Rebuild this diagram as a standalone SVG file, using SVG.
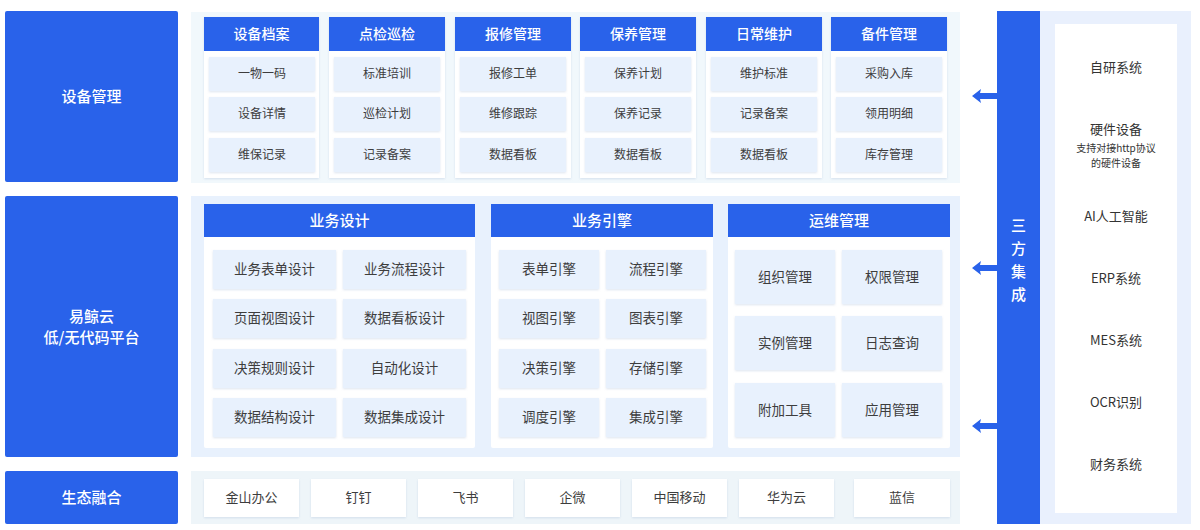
<svg xmlns="http://www.w3.org/2000/svg" width="1200" height="530" viewBox="0 0 1200 530">
<defs>
<filter id="sh" x="-10%" y="-10%" width="120%" height="130%">
<feDropShadow dx="0" dy="1" stdDeviation="1.2" flood-color="#9fb3d1" flood-opacity="0.35"/>
</filter>
<style>
text{font-family:"Noto Sans CJK SC","Noto Sans",sans-serif;text-anchor:middle;dominant-baseline:central;transform:translateY(-1.5px)}
.blk{fill:#2962ea}
.lbl{fill:#ffffff;font-size:15px;font-weight:500}
.hd{fill:#ffffff;font-size:14px;font-weight:500}
.hd2{fill:#ffffff;font-size:15px;font-weight:500}
.card{fill:#ffffff}
.it{fill:#e8f1fd}
.t12{fill:#3d3d3d;font-size:12px}
.t13{fill:#3d3d3d;font-size:13.5px}
.tb{fill:#3d3d3d;font-size:13px}
.tr{fill:#333333;font-size:13px}
.ts{fill:#333333;font-size:10px}
.arr{fill:#2962ea}
</style>
</defs>

<g id="left-labels">
<g id="lbl-device"><rect class="blk" x="5" y="11" width="173" height="171" rx="2"/><text class="lbl" x="91.5" y="97">设备管理</text></g>
<g id="lbl-platform"><rect class="blk" x="5" y="196" width="173" height="261" rx="2"/><text class="lbl" x="91.5" y="317">易鲸云</text><text class="lbl" x="91.5" y="338">低/无代码平台</text></g>
<g id="lbl-eco"><rect class="blk" x="5" y="471" width="173" height="53" rx="2"/><text class="lbl" x="91.5" y="497.5">生态融合</text></g>
</g>

<g id="device-panel">
<rect x="191" y="12" width="769" height="171" fill="#f1f8fc"/>
<g id="col-1"><rect class="card" x="204" y="17" width="115" height="161" filter="url(#sh)"/><rect class="blk" x="204" y="17" width="115" height="34"/><text class="hd" x="261.5" y="34">设备档案</text>
<rect class="it" x="209" y="57" width="106" height="34" filter="url(#sh)"/><text class="t12" x="262" y="74">一物一码</text>
<rect class="it" x="209" y="97" width="106" height="34" filter="url(#sh)"/><text class="t12" x="262" y="114">设备详情</text>
<rect class="it" x="209" y="138" width="106" height="34" filter="url(#sh)"/><text class="t12" x="262" y="155">维保记录</text></g>
<g id="col-2"><rect class="card" x="329" y="17" width="116" height="161" filter="url(#sh)"/><rect class="blk" x="329" y="17" width="116" height="34"/><text class="hd" x="387" y="34">点检巡检</text>
<rect class="it" x="334" y="57" width="106" height="34" filter="url(#sh)"/><text class="t12" x="387" y="74">标准培训</text>
<rect class="it" x="334" y="97" width="106" height="34" filter="url(#sh)"/><text class="t12" x="387" y="114">巡检计划</text>
<rect class="it" x="334" y="138" width="106" height="34" filter="url(#sh)"/><text class="t12" x="387" y="155">记录备案</text></g>
<g id="col-3"><rect class="card" x="455" y="17" width="116" height="161" filter="url(#sh)"/><rect class="blk" x="455" y="17" width="116" height="34"/><text class="hd" x="513" y="34">报修管理</text>
<rect class="it" x="460" y="57" width="106" height="34" filter="url(#sh)"/><text class="t12" x="513" y="74">报修工单</text>
<rect class="it" x="460" y="97" width="106" height="34" filter="url(#sh)"/><text class="t12" x="513" y="114">维修跟踪</text>
<rect class="it" x="460" y="138" width="106" height="34" filter="url(#sh)"/><text class="t12" x="513" y="155">数据看板</text></g>
<g id="col-4"><rect class="card" x="580" y="17" width="116" height="161" filter="url(#sh)"/><rect class="blk" x="580" y="17" width="116" height="34"/><text class="hd" x="638" y="34">保养管理</text>
<rect class="it" x="585" y="57" width="106" height="34" filter="url(#sh)"/><text class="t12" x="638" y="74">保养计划</text>
<rect class="it" x="585" y="97" width="106" height="34" filter="url(#sh)"/><text class="t12" x="638" y="114">保养记录</text>
<rect class="it" x="585" y="138" width="106" height="34" filter="url(#sh)"/><text class="t12" x="638" y="155">数据看板</text></g>
<g id="col-5"><rect class="card" x="706" y="17" width="116" height="161" filter="url(#sh)"/><rect class="blk" x="706" y="17" width="116" height="34"/><text class="hd" x="764" y="34">日常维护</text>
<rect class="it" x="711" y="57" width="106" height="34" filter="url(#sh)"/><text class="t12" x="764" y="74">维护标准</text>
<rect class="it" x="711" y="97" width="106" height="34" filter="url(#sh)"/><text class="t12" x="764" y="114">记录备案</text>
<rect class="it" x="711" y="138" width="106" height="34" filter="url(#sh)"/><text class="t12" x="764" y="155">数据看板</text></g>
<g id="col-6"><rect class="card" x="831" y="17" width="116" height="161" filter="url(#sh)"/><rect class="blk" x="831" y="17" width="116" height="34"/><text class="hd" x="889" y="34">备件管理</text>
<rect class="it" x="836" y="57" width="106" height="34" filter="url(#sh)"/><text class="t12" x="889" y="74">采购入库</text>
<rect class="it" x="836" y="97" width="106" height="34" filter="url(#sh)"/><text class="t12" x="889" y="114">领用明细</text>
<rect class="it" x="836" y="138" width="106" height="34" filter="url(#sh)"/><text class="t12" x="889" y="155">库存管理</text></g>
</g>

<g id="platform-panel">
<rect x="191" y="196" width="769" height="261" fill="#e8f1fd"/>
<g id="biz-design"><rect class="card" x="204" y="204" width="271" height="244" rx="2"/><rect class="blk" x="204" y="204" width="271" height="33"/><text class="hd2" x="339.5" y="220.5">业务设计</text>
<rect class="it" x="213" y="250" width="123" height="39" filter="url(#sh)"/><text class="t13" x="274.5" y="269.5">业务表单设计</text>
<rect class="it" x="343" y="250" width="123" height="39" filter="url(#sh)"/><text class="t13" x="404.5" y="269.5">业务流程设计</text>
<rect class="it" x="213" y="299" width="123" height="39" filter="url(#sh)"/><text class="t13" x="274.5" y="318.5">页面视图设计</text>
<rect class="it" x="343" y="299" width="123" height="39" filter="url(#sh)"/><text class="t13" x="404.5" y="318.5">数据看板设计</text>
<rect class="it" x="213" y="349" width="123" height="39" filter="url(#sh)"/><text class="t13" x="274.5" y="368.5">决策规则设计</text>
<rect class="it" x="343" y="349" width="123" height="39" filter="url(#sh)"/><text class="t13" x="404.5" y="368.5">自动化设计</text>
<rect class="it" x="213" y="398" width="123" height="39" filter="url(#sh)"/><text class="t13" x="274.5" y="417.5">数据结构设计</text>
<rect class="it" x="343" y="398" width="123" height="39" filter="url(#sh)"/><text class="t13" x="404.5" y="417.5">数据集成设计</text></g>
<g id="biz-engine"><rect class="card" x="491" y="204" width="222" height="244" rx="2"/><rect class="blk" x="491" y="204" width="222" height="33"/><text class="hd2" x="602" y="220.5">业务引擎</text>
<rect class="it" x="499" y="250" width="100" height="39" filter="url(#sh)"/><text class="t13" x="549" y="269.5">表单引擎</text>
<rect class="it" x="606" y="250" width="100" height="39" filter="url(#sh)"/><text class="t13" x="656" y="269.5">流程引擎</text>
<rect class="it" x="499" y="299" width="100" height="39" filter="url(#sh)"/><text class="t13" x="549" y="318.5">视图引擎</text>
<rect class="it" x="606" y="299" width="100" height="39" filter="url(#sh)"/><text class="t13" x="656" y="318.5">图表引擎</text>
<rect class="it" x="499" y="349" width="100" height="39" filter="url(#sh)"/><text class="t13" x="549" y="368.5">决策引擎</text>
<rect class="it" x="606" y="349" width="100" height="39" filter="url(#sh)"/><text class="t13" x="656" y="368.5">存储引擎</text>
<rect class="it" x="499" y="398" width="100" height="39" filter="url(#sh)"/><text class="t13" x="549" y="417.5">调度引擎</text>
<rect class="it" x="606" y="398" width="100" height="39" filter="url(#sh)"/><text class="t13" x="656" y="417.5">集成引擎</text></g>
<g id="ops"><rect class="card" x="728" y="204" width="222" height="244" rx="2"/><rect class="blk" x="728" y="204" width="222" height="33"/><text class="hd2" x="839" y="220.5">运维管理</text>
<rect class="it" x="735" y="250" width="100" height="54" filter="url(#sh)"/><text class="t13" x="785" y="277">组织管理</text>
<rect class="it" x="842" y="250" width="100" height="54" filter="url(#sh)"/><text class="t13" x="892" y="277">权限管理</text>
<rect class="it" x="735" y="316" width="100" height="54" filter="url(#sh)"/><text class="t13" x="785" y="343">实例管理</text>
<rect class="it" x="842" y="316" width="100" height="54" filter="url(#sh)"/><text class="t13" x="892" y="343">日志查询</text>
<rect class="it" x="735" y="383" width="100" height="54" filter="url(#sh)"/><text class="t13" x="785" y="410">附加工具</text>
<rect class="it" x="842" y="383" width="100" height="54" filter="url(#sh)"/><text class="t13" x="892" y="410">应用管理</text></g>
</g>

<g id="eco-panel">
<rect x="191" y="471" width="769" height="53" fill="#eef5f9"/>
<g id="eco-items">
<rect class="card" x="204" y="479" width="95" height="38" filter="url(#sh)"/><text class="tb" x="251.5" y="498">金山办公</text>
<rect class="card" x="311" y="479" width="95" height="38" filter="url(#sh)"/><text class="tb" x="358.5" y="498">钉钉</text>
<rect class="card" x="418" y="479" width="95" height="38" filter="url(#sh)"/><text class="tb" x="465.5" y="498">飞书</text>
<rect class="card" x="525" y="479" width="95" height="38" filter="url(#sh)"/><text class="tb" x="572.5" y="498">企微</text>
<rect class="card" x="632" y="479" width="95" height="38" filter="url(#sh)"/><text class="tb" x="679.5" y="498">中国移动</text>
<rect class="card" x="739" y="479" width="95" height="38" filter="url(#sh)"/><text class="tb" x="786.5" y="498">华为云</text>
<rect class="card" x="854" y="479" width="96" height="38" filter="url(#sh)"/><text class="tb" x="902" y="498">蓝信</text>
</g>
</g>

<g id="integration">
<rect class="blk" x="997" y="11" width="43" height="513"/>
<text class="hd2" x="1018.5" y="226">三</text>
<text class="hd2" x="1018.5" y="249">方</text>
<text class="hd2" x="1018.5" y="272">集</text>
<text class="hd2" x="1018.5" y="295">成</text>
</g>

<g id="systems">
<rect x="1040" y="11" width="151" height="513" fill="#e9f0fd"/>
<rect class="card" x="1055" y="24" width="122" height="489"/>
<text class="tr" x="1116" y="68">自研系统</text>
<text class="tr" x="1116" y="130">硬件设备</text>
<text class="ts" x="1116" y="149">支持对接http协议</text>
<text class="ts" x="1116" y="164">的硬件设备</text>
<text class="tr" x="1116" y="217">AI人工智能</text>
<text class="tr" x="1116" y="279">ERP系统</text>
<text class="tr" x="1116" y="341">MES系统</text>
<text class="tr" x="1116" y="403">OCR识别</text>
<text class="tr" x="1116" y="465">财务系统</text>
</g>

<g id="connectors">
<polygon class="arr" points="972,96 981,89 980,93 997,93 997,99 980,99 981,103"/>
<polygon class="arr" points="972,268 981,261 980,265 997,265 997,271 980,271 981,275"/>
<polygon class="arr" points="972,426 981,419 980,423 997,423 997,429 980,429 981,433"/>
</g>
</svg>
